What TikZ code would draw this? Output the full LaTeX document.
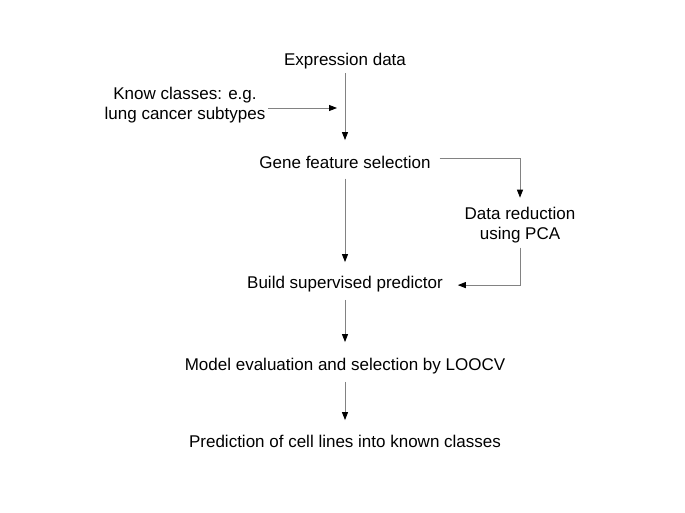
\documentclass[tikz,border=0pt]{standalone}
\usepackage{fontspec}
\setmainfont{Liberation Sans}
\usetikzlibrary{arrows.meta,calc}
\definecolor{lineg}{RGB}{130,130,130}
\tikzset{
  lbl/.style={inner sep=0pt, outer sep=0pt, anchor=base, font=\fontsize{17}{20}\selectfont},
  lbl2/.style={lbl, align=center},
  conn/.style={draw=lineg, line width=0.9pt, -{Triangle[length=8pt,width=6pt,fill=black,color=black]}}
}
\begin{document}
\begin{tikzpicture}[x=1pt,y=-1pt]
\useasboundingbox[fill=white] (0,0) rectangle (685,513);
\node[lbl] (exp) at (345,66) {Expression data};
\node[lbl2] (know) at (185,120) {Know classes: e.g.\\lung cancer subtypes};
\node[lbl] (gene) at (345,169) {Gene feature selection};
\node[lbl2] (pca) at (520,239) {Data reduction\\using PCA};
\node[lbl] (build) at (345,288) {Build supervised predictor};
\node[lbl] (model) at (345,370) {Model evaluation and selection by LOOCV};
\node[lbl] (pred) at (345,447) {Prediction of cell lines into known classes};
\coordinate (j) at (345,108);

\draw[conn, shorten <=3.5pt, shorten >=16.6pt] (exp.south) -- (gene.north);
\draw[conn] ([xshift=3pt]know.east |- j) -- ([xshift=-8pt]j);
\draw[conn] ([xshift=9pt,yshift=4.5pt]gene.east) -| ([yshift=9pt]pca.north);
\draw[conn] ([yshift=-5pt]pca.south) |- ([xshift=15pt,yshift=-1.5pt]build.east);
\draw[conn, shorten <=9.4pt, shorten >=13.6pt] (gene.south) -- (build.north);
\draw[conn, shorten <=8.4pt, shorten >=15.6pt] (build.south) -- (model.north);
\draw[conn, shorten <=8.4pt, shorten >=14.6pt] (model.south) -- (pred.north);
\end{tikzpicture}
\end{document}
